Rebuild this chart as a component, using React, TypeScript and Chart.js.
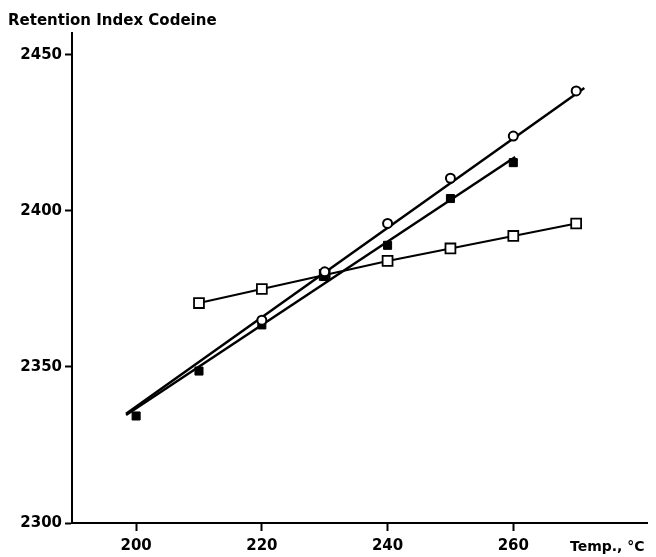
import React, { useEffect, useRef } from "react";
import { Chart, registerables } from "chart.js";

Chart.register(...registerables);

const xTicks = [200, 220, 240, 260];
const yTicks = [2300, 2350, 2400, 2450];

const circleX = [220, 230, 240, 250, 260, 270];
const circleY = [2365, 2380.5, 2396, 2410.5, 2424, 2438.5];

const filledX = [200, 210, 220, 230, 240, 250, 260];
const filledY = [2334.3, 2348.7, 2363.5, 2379, 2389, 2404, 2415.5];

const openSqX = [210, 220, 230, 240, 250, 260, 270];
const openSqY = [2370.5, 2375, 2379.5, 2384, 2388, 2392, 2396];

const fitCircleX = [198.4, 271.3];
const fitCircleY = [2335, 2439.4];
const fitFilledX = [198.4, 260.3];
const fitFilledY = [2334.6, 2417.3];

const titleText = "Retention Index Codeine";
const xUnitText = "Temp., °C";

const pts = (xs: number[], ys: number[]) => xs.map((x, i) => ({ x, y: ys[i] }));

const FONT = "'DejaVu Sans', sans-serif";

const textPlugin = {
  id: "extraText",
  afterDraw(chart: any) {
    const ctx = chart.ctx;
    ctx.save();
    ctx.fillStyle = "#000";
    ctx.textAlign = "left";
    ctx.textBaseline = "alphabetic";
    ctx.font = `bold 15px ${FONT}`;
    ctx.fillText(titleText, 8, 25);
    ctx.font = `bold 14px ${FONT}`;
    ctx.fillText(xUnitText, 570, 551);
    ctx.restore();
  },
};

export default function App() {
  const ref = useRef<HTMLCanvasElement>(null);
  useEffect(() => {
    document.body.style.margin = "0";
    const chart = new Chart(ref.current!, {
      type: "scatter",
      data: {
        datasets: [
          {
            data: pts(circleX, circleY),
            pointStyle: "circle",
            pointRadius: 4.5,
            pointBackgroundColor: "#fff",
            pointBorderColor: "#000",
            pointBorderWidth: 2,
            showLine: false,
            order: 0,
          },
          {
            data: pts(filledX, filledY),
            pointStyle: "rect",
            pointRadius: 5.7,
            pointBackgroundColor: "#000",
            pointBorderColor: "#000",
            pointBorderWidth: 1,
            showLine: false,
            order: 0,
          },
          {
            data: pts(openSqX, openSqY),
            pointStyle: "rect",
            pointRadius: 7,
            pointBackgroundColor: "#fff",
            pointBorderColor: "#000",
            pointBorderWidth: 1.8,
            showLine: true,
            borderColor: "#000",
            borderWidth: 2,
            order: 1,
          },
          {
            data: pts(fitCircleX, fitCircleY),
            showLine: true,
            pointRadius: 0,
            borderColor: "#000",
            borderWidth: 2.5,
            order: 5,
          },
          {
            data: pts(fitFilledX, fitFilledY),
            showLine: true,
            pointRadius: 0,
            borderColor: "#000",
            borderWidth: 2.5,
            order: 5,
          },
        ],
      },
      options: {
        animation: false,
        responsive: false,
        devicePixelRatio: 1,
        layout: { padding: { top: 33, right: 0, left: 0, bottom: 0 } },
        plugins: {
          legend: { display: false },
          tooltip: { enabled: false },
          title: { display: false },
        },
        scales: {
          x: {
            type: "linear",
            min: 189.8,
            max: 281.3,
            afterBuildTicks: (s: any) => {
              s.ticks = xTicks.map((v) => ({ value: v }));
            },
            afterFit: (s: any) => {
              s.height = 34;
            },
            grid: {
              display: true,
              drawOnChartArea: false,
              drawTicks: true,
              tickLength: 8,
              tickColor: "#000",
              tickWidth: 2,
            },
            border: { display: true, color: "#000", width: 2 },
            ticks: {
              color: "#000",
              padding: 6,
              maxRotation: 0,
              font: { family: FONT, size: 15, weight: "bold" },
              callback: (v: any) => String(v),
            },
          },
          y: {
            type: "linear",
            min: 2300,
            max: 2457.05,
            afterBuildTicks: (s: any) => {
              s.ticks = yTicks.map((v) => ({ value: v }));
            },
            afterFit: (s: any) => {
              s.width = 72;
            },
            grid: {
              display: true,
              drawOnChartArea: false,
              drawTicks: true,
              tickLength: 7,
              tickColor: "#000",
              tickWidth: 2,
            },
            border: { display: true, color: "#000", width: 2 },
            ticks: {
              color: "#000",
              padding: 3,
              font: { family: FONT, size: 15, weight: "bold" },
              callback: (v: any) => String(v),
            },
          },
        },
      },
      plugins: [textPlugin],
    });
    return () => chart.destroy();
  }, []);
  return (
    <div style={{ width: 656, height: 557 }}>
      <canvas ref={ref} width={656} height={557} />
    </div>
  );
}
